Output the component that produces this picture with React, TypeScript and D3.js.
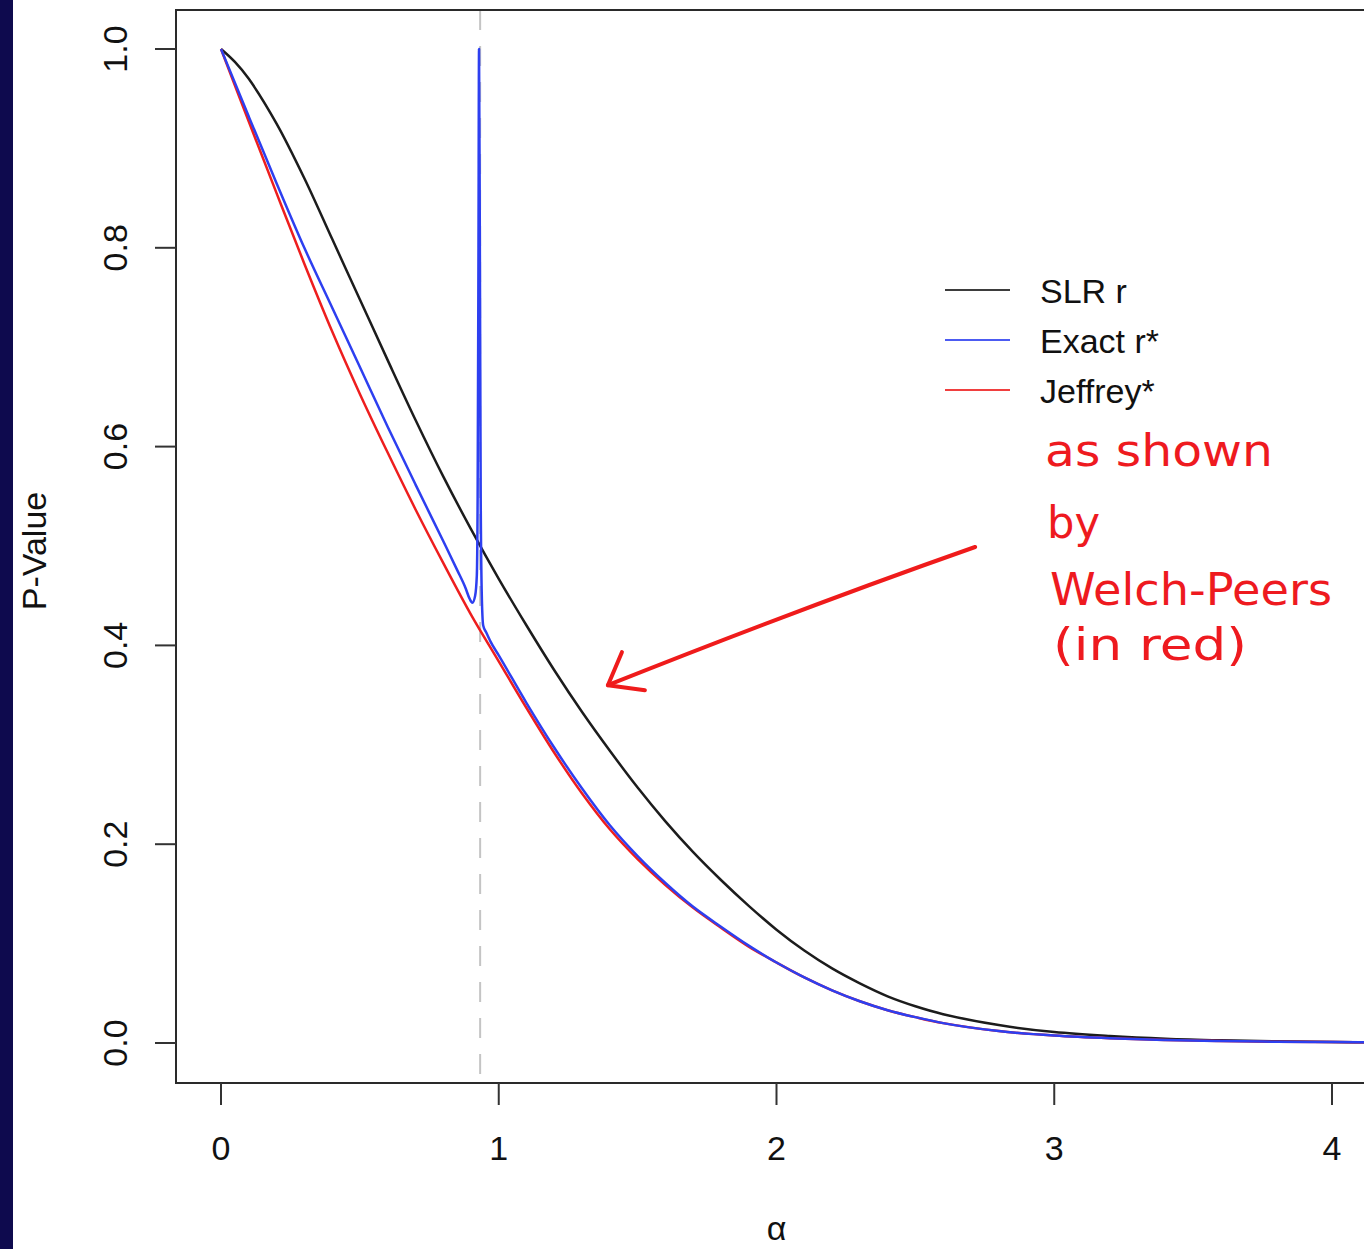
import * as d3 from 'd3';
import React from 'react';

// tick labels
const xTicks = [0, 1, 2, 3, 4];
const yTicks = [0, 0.2, 0.4, 0.6, 0.8, 1.0];

// SLR r (black)
const alphaSlr = [0, 0.05, 0.1, 0.2, 0.3, 0.4, 0.5, 0.6, 0.7, 0.8, 0.9, 1.0, 1.1, 1.2, 1.3, 1.4, 1.5, 1.6, 1.7, 1.8, 1.9, 2.0, 2.1, 2.2, 2.3, 2.4, 2.5, 2.6, 2.8, 3.0, 3.2, 3.4, 3.6, 3.8, 4.0, 4.2];
const pSlr = [1.0, 0.987, 0.970, 0.925, 0.870, 0.809, 0.748, 0.687, 0.627, 0.570, 0.517, 0.467, 0.420, 0.375, 0.333, 0.294, 0.257, 0.223, 0.192, 0.164, 0.138, 0.114, 0.093, 0.075, 0.060, 0.047, 0.037, 0.029, 0.018, 0.011, 0.007, 0.0043, 0.0027, 0.0017, 0.001, 0.0006];

// Exact r* (blue), with the spike near alpha = 0.93
const alphaExact = [0, 0.1, 0.2, 0.3, 0.4, 0.5, 0.6, 0.7, 0.8, 0.85, 0.88, 0.895, 0.905, 0.915, 0.921, 0.924, 0.927, 0.929, 0.932, 0.935, 0.939, 0.944, 0.955, 0.97, 1.0, 1.1, 1.2, 1.3, 1.4, 1.5, 1.6, 1.7, 1.8, 1.9, 2.0, 2.1, 2.2, 2.3, 2.4, 2.5, 2.6, 2.8, 3.0, 3.2, 3.4, 3.6, 3.8, 4.0, 4.2];
const pExact = [1.0, 0.932, 0.865, 0.800, 0.740, 0.680, 0.620, 0.562, 0.505, 0.476, 0.458, 0.447, 0.443, 0.450, 0.47, 0.55, 0.80, 1.0, 0.80, 0.55, 0.45, 0.42, 0.413, 0.404, 0.390, 0.342, 0.297, 0.256, 0.219, 0.188, 0.161, 0.137, 0.117, 0.098, 0.081, 0.066, 0.053, 0.042, 0.033, 0.026, 0.020, 0.012, 0.0075, 0.0048, 0.0031, 0.002, 0.0013, 0.0009, 0.0006];

// Jeffrey* (red)
const alphaJeffrey = [0, 0.1, 0.2, 0.3, 0.4, 0.5, 0.6, 0.7, 0.8, 0.9, 1.0, 1.1, 1.2, 1.3, 1.4, 1.5, 1.6, 1.7, 1.8, 1.9, 2.0, 2.1, 2.2, 2.3, 2.4, 2.5, 2.6, 2.8, 3.0, 3.2, 3.4, 3.6, 3.8, 4.0, 4.2];
const pJeffrey = [1.0, 0.927, 0.855, 0.784, 0.716, 0.653, 0.594, 0.537, 0.483, 0.431, 0.384, 0.337, 0.292, 0.251, 0.215, 0.185, 0.159, 0.136, 0.116, 0.097, 0.081, 0.066, 0.053, 0.042, 0.033, 0.026, 0.020, 0.012, 0.0075, 0.0048, 0.0031, 0.002, 0.0013, 0.0009, 0.0006];

const seriesNames = ['SLR r', 'Exact r*', 'Jeffrey*'];
const seriesColors = ['#1c1c1c', '#2d3ff0', '#ee1e1e'];
const breakAlpha = 0.933;
const noteLines = ['as shown', 'by', 'Welch-Peers', '(in red)'];
// arrow from note to curves, in data units [alpha, p]
const arrowFrom = [2.715, 0.499];
const arrowTo = [1.393, 0.36];

const W = 1364, H = 1249;
const font = 'Liberation Sans, Arial, Helvetica, sans-serif';

export default function App() {
  const box = { left: 176, top: 10, right: 1392, bottom: 1083 };
  const x = d3.scaleLinear().domain([0, 4]).range([221, 1332]);
  const y = d3.scaleLinear().domain([0, 1]).range([1043, 49]);

  const smooth = d3.line<[number, number]>()
    .x(d => x(d[0]))
    .y(d => y(d[1]))
    .curve(d3.curveCatmullRom.alpha(0.5));
  const sharp = d3.line<[number, number]>()
    .x(d => x(d[0]))
    .y(d => y(d[1]))
    .curve(d3.curveMonotoneX);

  const series = [
    alphaSlr.map((a, i) => [a, pSlr[i]] as [number, number]),
    alphaExact.map((a, i) => [a, pExact[i]] as [number, number]),
    alphaJeffrey.map((a, i) => [a, pJeffrey[i]] as [number, number]),
  ];

  const ax = x(arrowFrom[0]), ay = y(arrowFrom[1]);
  const tx = x(arrowTo[0]), ty = y(arrowTo[1]);

  const noteX = [1045, 1047, 1050, 1053];
  const noteY = [466, 538, 605, 660];
  const noteLen = [228, 53, 282, 194];

  return (
    <svg width={W} height={H} style={{ position: 'absolute', left: 0, top: 0, background: '#fff' }}
      fontFamily={font}>
      <rect x={0} y={0} width={W} height={H} fill="#fff" />
      <rect x={0} y={0} width={13} height={H} fill="#0e0a4e" />
      <defs>
        <clipPath id="plot">
          <rect x={box.left} y={box.top} width={box.right - box.left} height={box.bottom - box.top} />
        </clipPath>
      </defs>

      {/* dashed reference line */}
      <line x1={x(breakAlpha)} x2={x(breakAlpha)} y1={box.top} y2={box.bottom}
        stroke="#c4c4c4" strokeWidth={2} strokeDasharray="20 16" />

      <g clipPath="url(#plot)">
        {[0, 2, 1].map(i => (
          <path key={i} d={(i === 1 ? sharp(series[i]) : smooth(series[i])) || ''} fill="none"
            stroke={seriesColors[i]} strokeWidth={2.5} strokeLinejoin="round" />
        ))}
      </g>

      {/* frame */}
      <rect x={box.left} y={box.top} width={box.right - box.left} height={box.bottom - box.top}
        fill="none" stroke="#2a2a2a" strokeWidth={2} />

      {/* x axis */}
      {xTicks.map(t => (
        <g key={t}>
          <line x1={x(t)} x2={x(t)} y1={box.bottom} y2={box.bottom + 22} stroke="#333" strokeWidth={2} />
          <text x={x(t)} y={1160} fontSize={34} textAnchor="middle" fill="#111">{t}</text>
        </g>
      ))}
      <text x={x(2)} y={1240} fontSize={34} textAnchor="middle" fill="#111">α</text>

      {/* y axis */}
      {yTicks.map(t => (
        <g key={t}>
          <line x1={box.left - 21} x2={box.left} y1={y(t)} y2={y(t)} stroke="#333" strokeWidth={2} />
          <text transform={`translate(127,${y(t)}) rotate(-90)`} fontSize={34} textAnchor="middle" fill="#111">
            {t.toFixed(1)}
          </text>
        </g>
      ))}
      <text transform={`translate(46,${y(0.5) + 5}) rotate(-90)`} fontSize={34} textAnchor="middle" fill="#111">
        P-Value
      </text>

      {/* legend */}
      {seriesNames.map((name, i) => (
        <g key={name}>
          <line x1={945} x2={1010} y1={290 + i * 50} y2={290 + i * 50} stroke={seriesColors[i]}
            strokeWidth={2} opacity={0.85} />
          <text x={1040} y={303 + i * 50} fontSize={34} fill="#111">{name}</text>
        </g>
      ))}

      {/* handwritten note */}
      {noteLines.map((s, i) => (
        <text key={s} x={noteX[i]} y={noteY[i]} fontSize={44} fill="#ee1a1f"
          fontFamily="DejaVu Sans, sans-serif" textLength={noteLen[i]} lengthAdjust="spacingAndGlyphs">
          {s}
        </text>
      ))}
      <path d={`M${ax},${ay} Q${(ax + tx) / 2 + 10},${(ay + ty) / 2 - 8} ${tx},${ty}`}
        fill="none" stroke="#ef1b1b" strokeWidth={4} strokeLinecap="round" />
      <path d={`M${tx + 14},${ty - 33} L${tx},${ty} L${tx + 37},${ty + 5}`}
        fill="none" stroke="#ef1b1b" strokeWidth={4} strokeLinecap="round" strokeLinejoin="round" />
    </svg>
  );
}
